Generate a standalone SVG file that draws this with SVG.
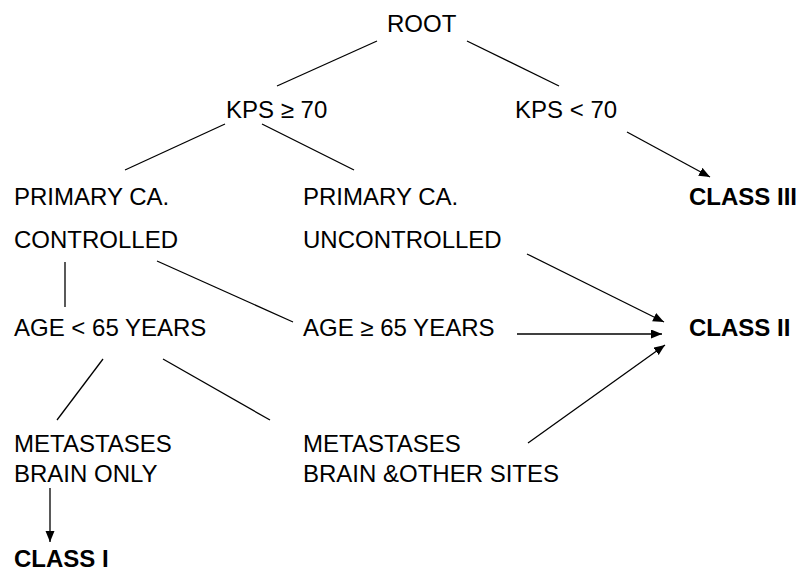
<svg xmlns="http://www.w3.org/2000/svg" width="800" height="571" viewBox="0 0 800 571">
<style>
text{font-family:"Liberation Sans",Arial,sans-serif;font-size:24px;fill:#000}
.b{font-weight:bold}
line{stroke:#000;stroke-width:1.3}
</style>
<defs>
<marker id="ah" markerUnits="userSpaceOnUse" markerWidth="12" markerHeight="10" refX="11" refY="4.5" orient="auto">
<path d="M0,0 L11,4.5 L0,9 Z" fill="#000"/>
</marker>
</defs>
<rect width="800" height="571" fill="#fff"/>
<g id="connectors">
<line x1="377" y1="41" x2="277" y2="86"/>
<line x1="467" y1="41" x2="559" y2="86"/>
<line x1="225" y1="124" x2="125" y2="170"/>
<line x1="262" y1="124" x2="354" y2="170"/>
<line x1="627" y1="132" x2="710" y2="177" marker-end="url(#ah)"/>
<line x1="65" y1="262" x2="65" y2="307"/>
<line x1="157" y1="261" x2="293" y2="322"/>
<line x1="527" y1="254" x2="664" y2="322" marker-end="url(#ah)"/>
<line x1="517" y1="334" x2="662" y2="334" marker-end="url(#ah)"/>
<line x1="528" y1="443" x2="665" y2="345" marker-end="url(#ah)"/>
<line x1="103" y1="359" x2="57" y2="420"/>
<line x1="163" y1="359" x2="270" y2="420"/>
<line x1="50" y1="488" x2="50" y2="542" marker-end="url(#ah)"/>
</g>
<g id="root"><text x="387" y="32">ROOT</text></g>
<g id="kps-ge-70"><text x="226" y="118">KPS ≥ 70</text></g>
<g id="kps-lt-70"><text x="515" y="118">KPS &lt; 70</text></g>
<g id="class-iii"><text class="b" x="689" y="205">CLASS III</text></g>
<g id="primary-controlled"><text x="14" y="205">PRIMARY CA.</text><text x="14" y="248">CONTROLLED</text></g>
<g id="primary-uncontrolled"><text x="303" y="205">PRIMARY CA.</text><text x="303" y="248">UNCONTROLLED</text></g>
<g id="age-lt-65"><text x="14" y="336">AGE &lt; 65 YEARS</text></g>
<g id="age-ge-65"><text x="303" y="336">AGE ≥ 65 YEARS</text></g>
<g id="class-ii"><text class="b" x="689" y="336">CLASS II</text></g>
<g id="met-brain-only"><text x="14" y="452">METASTASES</text><text x="14" y="482">BRAIN ONLY</text></g>
<g id="met-other-sites"><text x="303" y="452">METASTASES</text><text x="303" y="482">BRAIN &amp;OTHER SITES</text></g>
<g id="class-i"><text class="b" x="14" y="567">CLASS I</text></g>
</svg>
